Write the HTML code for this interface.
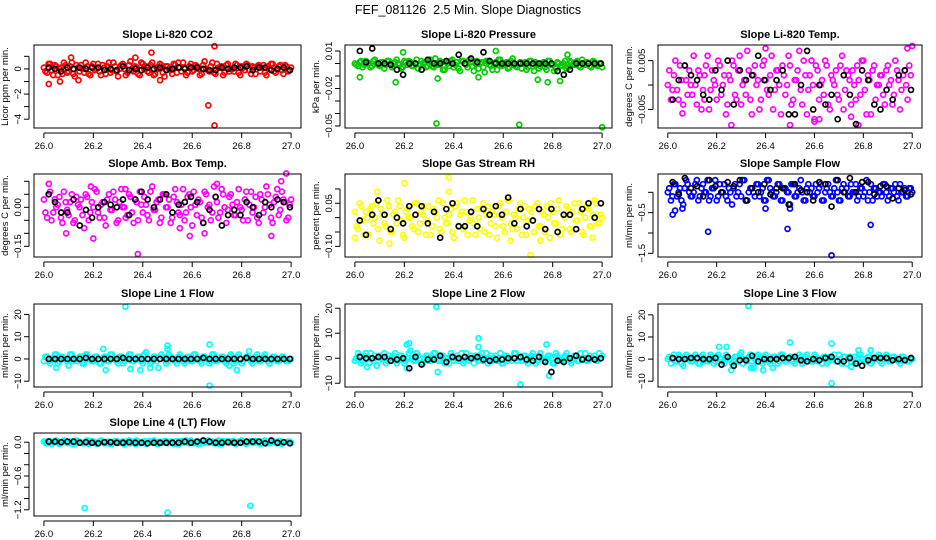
<!DOCTYPE html>
<html><head><meta charset="utf-8">
<style>
html,body{margin:0;padding:0;background:#fff;}
svg{display:block;font-family:"Liberation Sans",Arial,sans-serif;}
</style></head>
<body>
<svg id="chart" width="936" height="540" viewBox="0 0 936 540" xmlns="http://www.w3.org/2000/svg">
<rect width="936" height="540" fill="#fff"/>
<text x="468" y="14" text-anchor="middle" font-size="12.5">FEF_081126&#160; 2.5 Min. Slope Diagnostics</text>
</svg>
<script>
// shared time arrays
const xsColor = [26.000,26.013,26.025,26.038,26.050,26.063,26.075,26.088,26.100,26.113,26.125,26.138,26.150,26.163,26.175,26.188,26.200,26.213,26.225,26.238,26.250,26.263,26.275,26.288,26.300,26.313,26.325,26.338,26.350,26.363,26.375,26.388,26.400,26.413,26.425,26.438,26.450,26.463,26.475,26.488,26.500,26.513,26.525,26.538,26.550,26.563,26.575,26.588,26.600,26.613,26.625,26.638,26.650,26.663,26.675,26.688,26.700,26.713,26.725,26.738,26.750,26.763,26.775,26.788,26.800,26.813,26.825,26.838,26.850,26.863,26.875,26.888,26.900,26.913,26.925,26.938,26.950,26.963,26.975,26.988,27.000];
const xsColor2 = [26.006,26.019,26.031,26.044,26.056,26.069,26.081,26.094,26.106,26.119,26.131,26.144,26.156,26.169,26.181,26.194,26.206,26.219,26.231,26.244,26.256,26.269,26.281,26.294,26.306,26.319,26.331,26.344,26.356,26.369,26.381,26.394,26.406,26.419,26.431,26.444,26.456,26.469,26.481,26.494,26.506,26.519,26.531,26.544,26.556,26.569,26.581,26.594,26.606,26.619,26.631,26.644,26.656,26.669,26.681,26.694,26.706,26.719,26.731,26.744,26.756,26.769,26.781,26.794,26.806,26.819,26.831,26.844,26.856,26.869,26.881,26.894,26.906,26.919,26.931,26.944,26.956,26.969,26.981,26.994];
const xsBlack = [26.020,26.045,26.070,26.095,26.120,26.145,26.170,26.195,26.220,26.245,26.270,26.295,26.320,26.345,26.370,26.395,26.420,26.445,26.470,26.495,26.520,26.545,26.570,26.595,26.620,26.645,26.670,26.695,26.720,26.745,26.770,26.795,26.820,26.845,26.870,26.895,26.920,26.945,26.970,26.995];
const xTicks = [26.0,26.2,26.4,26.6,26.8,27.0];
const xTickLabels = ["26.0","26.2","26.4","26.6","26.8","27.0"];

// Panel 1: CO2
const co2Color = [0.1,-0.3,0.4,-0.5,0.2,0.0,-0.4,0.3,-0.2,0.5,-0.6,0.1,0.3,-0.3,0.2,-0.5,0.4,0.0,-0.2,0.3,-0.4,0.5,-0.1,0.2,-0.6,0.3,0.0,-0.3,0.6,-0.2,0.1,-0.5,0.4,0.2,-0.3,0.5,-0.4,0.0,0.3,-0.6,0.2,-0.1,0.4,-0.3,0.1,0.5,-0.5,0.2,-0.2,0.3,0.0,-0.4,0.6,-0.1,0.2,-0.3,0.4,0.1,-0.5,0.3,-0.2,0.0,0.4,-0.3,0.2,-0.1,0.3,-0.4,0.1,0.2,-0.2,0.3,-0.5,0.0,0.4,-0.3,0.2,-0.1,0.3,-0.2,0.1];
const co2Color2 = [-0.2,0.4,-0.1,0.3,-0.5,0.1,0.5,-0.3,0.2,-0.4,0.3,-0.2,0.0,0.5,-0.4,0.2,-0.1,0.4,-0.5,0.1,0.2,-0.3,0.5,-0.2,0.0,0.4,-0.5,0.3,-0.1,0.2,-0.4,0.5,0.0,-0.2,0.3,-0.5,0.1,0.4,-0.3,0.2,0.0,-0.4,0.3,0.5,-0.2,0.1,-0.3,0.4,-0.1,0.2,-0.5,0.3,0.0,-0.2,0.5,-0.4,0.1,0.2,-0.3,0.4,0.0,-0.2,0.3,-0.5,0.1,0.4,-0.1,0.2,-0.4,0.3,0.1,-0.3,0.2,0.4,-0.2,0.0,0.3,-0.4,0.2,-0.1];
const co2Black = [0.1,0.0,-0.2,0.1,0.0,0.1,0.0,0.1,0.1,-0.1,0.0,-0.1,0.2,-0.1,0.0,-0.1,0.1,0.0,0.1,-0.1,0.0,0.1,0.0,0.1,0.1,0.0,-0.1,-0.1,0.1,0.0,0.1,0.1,0.2,-0.1,0.1,0.1,-0.1,0.0,0.1,-0.1];
const co2OutX = [26.69,26.665,26.69,26.435,26.37,26.11,26.02,26.065,26.14,26.47];
const co2OutY = [1.8,-2.9,-4.5,1.3,0.9,0.9,-1.2,-1.0,-0.9,-0.9];
// Panel 2: Pressure
const presColor = [0.000,-0.002,0.002,-0.001,0.001,-0.003,0.002,0.000,-0.002,0.001,-0.001,0.002,-0.003,0.001,0.000,-0.004,0.002,-0.001,0.001,-0.002,0.003,-0.001,0.000,-0.003,0.002,-0.002,0.004,-0.001,0.001,-0.005,0.000,0.002,-0.003,0.001,-0.006,0.002,-0.001,0.003,-0.002,0.000,-0.004,0.001,-0.007,0.002,-0.002,0.000,-0.005,0.003,-0.001,0.001,-0.003,0.004,-0.002,0.000,-0.004,0.001,-0.003,0.002,-0.006,0.000,-0.002,0.001,-0.005,0.002,-0.001,-0.004,0.000,-0.002,0.002,-0.003,0.001,-0.001,0.002,-0.003,0.000,0.001,-0.002,0.002,-0.001,0.000,-0.003];
const presColor2 = [-0.001,0.001,-0.003,0.002,0.000,-0.002,0.003,-0.001,0.001,-0.004,0.002,0.000,-0.002,0.003,-0.001,-0.003,0.001,0.002,-0.002,0.000,-0.004,0.002,0.001,-0.002,0.003,-0.003,0.000,0.002,-0.005,0.001,-0.002,0.003,-0.001,-0.004,0.002,0.000,-0.003,0.001,-0.006,0.002,0.000,-0.003,0.002,-0.001,-0.005,0.001,0.003,-0.002,0.000,-0.004,0.002,-0.001,-0.003,0.001,0.000,-0.005,0.002,-0.002,0.001,-0.004,0.000,-0.003,0.002,-0.001,-0.006,0.001,-0.002,0.000,-0.004,0.002,-0.001,0.001,-0.002,0.003,-0.001,0.000,-0.003,0.001,-0.002,0.000];
const presBlack = [0.010,0.001,0.012,0.000,0.000,-0.001,-0.005,-0.009,0.000,0.000,-0.005,0.003,0.000,0.000,0.002,0.000,0.007,0.000,0.004,0.001,0.009,0.002,0.000,0.000,0.000,0.000,0.000,0.000,0.000,0.000,0.000,0.000,-0.006,-0.009,-0.005,0.000,0.000,0.000,0.000,0.000];
const presOutX = [26.33,26.665,27.0,26.57,26.195,26.02,26.165,26.335,26.78,26.83,26.5,26.74,26.86];
const presOutY = [-0.048,-0.049,-0.051,0.010,0.009,-0.011,-0.015,-0.012,-0.015,-0.014,-0.011,-0.013,0.007];
// Panel 3: Li-820 temp
const tempColor = [0.000,-0.003,0.002,-0.001,0.004,-0.004,0.001,0.003,-0.002,0.000,0.003,-0.005,0.002,0.006,-0.001,0.001,-0.003,0.004,0.000,-0.006,0.002,0.005,-0.002,0.003,-0.004,0.001,0.007,-0.003,0.002,0.000,-0.005,0.004,0.001,-0.002,0.006,-0.001,0.003,-0.006,0.002,0.000,0.004,-0.003,0.001,0.007,-0.004,0.002,-0.001,0.005,-0.007,0.003,0.000,-0.002,0.004,-0.005,0.001,0.003,-0.003,0.006,-0.001,0.002,-0.004,0.000,0.004,-0.002,0.005,-0.006,0.001,0.003,-0.003,0.000,0.002,-0.004,0.004,0.001,-0.002,0.003,-0.005,0.002,0.000,0.004,0.008];
const tempColor2 = [0.003,-0.001,0.005,-0.003,0.001,0.004,-0.002,0.000,0.006,-0.004,0.002,-0.001,0.004,-0.005,0.003,0.000,0.005,-0.002,0.002,-0.004,0.001,0.004,-0.003,0.006,0.000,-0.002,0.003,-0.006,0.004,0.001,-0.003,0.005,-0.001,0.002,-0.005,0.003,0.000,0.004,-0.002,0.006,-0.004,0.001,0.003,-0.001,0.005,-0.006,0.002,0.000,0.004,-0.003,0.001,0.005,-0.004,0.002,0.000,-0.002,0.004,-0.005,0.003,0.001,0.003,-0.003,0.001,0.005,-0.001,0.002,-0.006,0.004,0.000,0.002,-0.002,0.003,0.000,-0.004,0.005,0.001,-0.001,0.003,-0.003,0.002];
const tempBlack = [-0.003,0.001,0.004,0.002,0.001,-0.002,-0.003,0.003,-0.001,0.005,-0.004,0.003,0.001,0.002,0.006,0.001,-0.001,0.001,0.003,-0.006,-0.006,0.000,0.007,-0.005,0.000,-0.004,-0.002,-0.007,0.002,-0.002,-0.008,0.003,0.001,-0.004,-0.005,-0.001,-0.003,0.002,0.003,-0.001];
const tempOutX = [26.26,26.5,26.78,26.98,26.06,26.75,26.62,26.6,26.4,26.15];
const tempOutY = [-0.0082,-0.0082,-0.0082,0.0075,-0.0058,-0.0065,-0.0070,-0.0075,0.0075,-0.003];
// Panel 4: Amb box temp
const ambColor = [0.03,-0.04,0.06,-0.02,0.00,0.04,-0.06,0.02,-0.03,0.05,-0.05,0.01,0.03,-0.08,0.04,-0.02,0.00,0.06,-0.04,0.02,-0.07,0.05,-0.01,0.03,-0.05,0.07,0.00,-0.03,0.04,-0.06,0.02,0.06,-0.02,0.01,-0.05,0.08,-0.01,0.03,-0.04,0.05,0.00,-0.06,0.04,0.02,-0.03,0.07,-0.02,0.05,-0.07,0.01,0.03,-0.04,0.06,0.00,-0.05,0.08,0.02,-0.02,0.05,-0.06,0.04,0.01,-0.03,0.07,-0.01,0.03,-0.05,0.06,0.00,-0.04,0.05,-0.02,0.08,0.01,-0.06,0.04,-0.03,0.06,0.02,-0.04,0.03];
const ambColor2 = [-0.02,0.05,-0.05,0.03,0.01,-0.04,0.06,-0.01,0.02,-0.06,0.04,0.00,-0.03,0.05,-0.05,0.02,0.07,-0.02,0.01,-0.04,0.03,-0.01,0.06,-0.06,0.02,0.00,-0.04,0.05,-0.02,0.03,-0.05,0.01,0.04,-0.03,0.06,-0.01,0.02,-0.06,0.05,0.00,0.03,-0.04,0.07,-0.02,0.01,-0.05,0.04,0.00,0.06,-0.03,0.02,-0.06,0.05,0.01,-0.02,0.04,-0.04,0.07,0.00,-0.01,0.05,-0.03,0.02,0.00,-0.05,0.06,0.01,-0.02,0.04,-0.06,0.03,0.00,0.05,-0.04,0.02,0.07,-0.01,0.03,-0.05,0.01];
const ambBlack = [0.05,0.02,-0.02,-0.02,0.03,-0.07,-0.01,-0.04,0.00,0.02,0.01,0.00,0.03,-0.03,0.03,0.06,0.03,0.00,0.03,0.05,-0.02,0.01,0.02,0.04,0.02,-0.06,-0.01,0.04,-0.07,-0.03,-0.01,-0.03,0.02,0.00,-0.03,0.02,0.00,0.03,0.02,0.00];
const ambOutX = [26.38,26.2,26.02,26.09,26.19,26.92,26.96,26.59,26.55,26.65,26.33,26.7,26.98];
const ambOutY = [-0.18,-0.12,0.09,-0.10,0.08,-0.11,0.10,-0.11,-0.08,-0.10,0.07,0.09,0.13];
// Panel 5: Gas stream RH
const rhColor = [0.02,-0.04,0.04,-0.06,0.00,0.03,-0.02,0.05,-0.08,0.01,-0.03,0.04,-0.05,0.02,0.06,-0.01,-0.07,0.03,0.00,-0.04,0.05,-0.02,0.01,-0.06,0.04,-0.03,0.02,0.06,-0.05,0.00,-0.02,0.03,-0.07,0.05,0.01,-0.04,0.02,-0.01,0.06,-0.06,0.00,0.03,-0.05,0.04,-0.02,0.01,-0.07,0.05,-0.03,0.02,0.06,-0.04,0.00,0.03,-0.06,0.04,-0.01,0.02,-0.05,0.05,-0.03,0.01,0.04,-0.07,0.02,-0.02,0.06,-0.04,0.00,0.03,-0.05,0.05,-0.01,0.02,-0.06,0.04,-0.03,0.01,0.05,-0.02,0.00];
const rhColor2 = [-0.03,0.05,-0.01,0.02,-0.06,0.04,0.00,-0.04,0.03,-0.02,0.06,-0.05,0.01,-0.02,0.04,-0.06,0.02,0.00,-0.03,0.05,-0.05,0.02,0.04,-0.01,-0.06,0.03,0.00,-0.04,0.05,-0.02,0.01,-0.05,0.04,-0.03,0.02,0.06,-0.06,0.00,-0.02,0.03,-0.04,0.05,0.01,-0.06,0.02,-0.03,0.04,0.00,-0.05,0.06,-0.02,0.01,-0.04,0.05,0.00,-0.06,0.03,-0.01,0.04,-0.03,0.02,-0.05,0.00,0.05,-0.02,0.03,-0.06,0.01,0.04,-0.04,0.02,-0.01,0.05,-0.05,0.00,0.03,-0.03,0.06,-0.02,0.01];
const rhBlack = [-0.01,-0.06,0.01,0.06,0.01,-0.04,0.00,-0.02,0.04,0.01,0.04,-0.02,0.02,-0.07,0.03,0.05,-0.03,-0.03,0.02,-0.03,0.03,0.01,0.04,0.01,0.07,-0.02,0.03,-0.03,-0.01,0.03,-0.04,0.03,-0.05,0.01,0.01,-0.04,0.03,0.05,0.00,0.05];
const rhOutX = [26.38,26.2,26.38,26.71,26.14,26.63,26.09,26.75,26.96,26.0];
const rhOutY = [0.14,0.12,0.09,-0.13,-0.09,-0.08,0.09,-0.08,-0.07,-0.07];
// Panel 6: Sample flow
const sfColor = [0.0,-0.2,0.2,-0.1,0.1,-0.3,0.3,0.0,-0.1,0.2,-0.2,0.1,0.0,0.3,-0.1,0.1,-0.2,0.2,0.0,-0.1,0.1,-0.3,0.2,0.0,-0.1,0.3,-0.2,0.1,0.0,0.2,-0.1,0.1,-0.2,0.3,0.0,-0.1,0.2,-0.2,0.1,0.0,-0.3,0.2,-0.1,0.1,0.0,-0.2,0.2,0.1,-0.1,0.0,0.2,-0.2,0.1,0.0,-0.1,0.3,-0.2,0.1,0.0,-0.1,0.2,0.0,-0.2,0.1,-0.1,0.3,0.0,-0.2,0.1,0.0,-0.1,0.2,-0.2,0.1,0.0,-0.1,0.2,0.0,-0.1,0.1,0.0];
const sfColor2 = [0.1,-0.1,0.2,0.0,-0.2,0.1,0.2,-0.1,0.0,0.3,-0.1,0.2,0.0,-0.2,0.1,0.3,-0.1,0.0,0.2,-0.2,0.0,0.1,-0.1,0.2,0.3,-0.2,0.0,0.1,-0.1,0.2,0.0,-0.2,0.3,0.1,-0.1,0.0,0.2,-0.2,0.1,0.0,0.2,-0.1,0.0,0.3,-0.2,0.1,0.0,-0.1,0.2,0.1,-0.2,0.0,0.2,-0.1,0.1,0.0,-0.2,0.2,0.1,-0.1,0.0,0.2,-0.1,0.1,0.0,-0.2,0.2,0.1,-0.1,0.0,0.2,0.0,-0.1,0.1,0.2,-0.2,0.0,0.1,-0.1,0.1];
const sfBlack = [0.25,-0.05,0.35,0.1,0.15,-0.1,0.3,0.15,0.0,0.25,0.15,0.3,-0.2,0.1,0.0,0.2,-0.05,0.1,0.1,-0.3,0.2,0.05,0.0,-0.2,0.25,0.2,-0.35,0.3,0.0,0.35,0.0,0.25,0.25,-0.05,0.15,0.15,-0.15,0.1,0.05,-0.05];
const sfOutX = [26.165,26.49,26.67,26.83,26.02,26.03,26.5,26.4,26.06];
const sfOutY = [-0.97,-0.9,-1.55,-0.8,-0.55,-0.45,-0.4,-0.4,-0.4];
// Panel 7: Line 1 flow
const l1Color = [-1,1,-2,0,2,-1,1,0,-3,2,0,-1,1,-2,2,0,-1,1,-2,0,1,-1,2,0,-2,1,-1,0,2,-1,0,1,-2,3,0,-1,1,-4,2,0,-1,1,0,-2,2,-1,0,1,-1,2,0,-2,1,0,-1,2,-1,0,1,-2,1,0,-1,2,-2,0,1,-1,0,2,-1,1,0,-2,1,0,-1,1,0,-1,0];
const l1Color2 = [1,-1,0,2,-2,1,0,-1,2,-1,0,1,-2,2,0,-1,1,0,-2,1,-1,2,0,-1,1,-2,0,2,-1,0,1,-1,2,0,-2,1,-1,0,1,-2,2,0,-1,1,0,-2,1,-1,2,0,-1,1,0,-2,2,-1,0,1,-1,0,2,-2,1,0,-1,1,0,-2,1,-1,0,2,-1,0,1,-1,0,1,-1,0];
const l1Black = [0,0,0,0,0,0,0.5,0,0,0,0,0,0.5,0,0,0,0,0,0,0,0,0,0,0,0,0.5,0,0,0,0,0,0,0.5,0,0,0,0,0,0,0];
const l1OutX = [26.33,26.67,26.5,26.5,26.67,26.24,26.25,26.05,26.35,26.39,26.43,26.78,26.83,26.75];
const l1OutY = [23.5,-12,6,4.5,6.5,4.5,-5,-4,-4.5,-5,-4,-5,3.5,-3];
// Panel 8: Line 2 flow
const l2Color = [-1,2,-2,1,0,2,-1,-3,1,0,-2,1,0,2,-1,1,-2,0,3,-1,2,0,-2,1,-1,0,2,-1,1,-2,0,2,-1,1,0,-2,2,-1,0,1,-1,2,0,-2,1,0,-1,2,-2,1,0,-1,2,0,-1,1,-2,1,0,-1,2,-1,0,1,-2,2,0,-1,1,0,-2,1,-1,2,0,-1,1,0,-1,2,1];
const l2Color2 = [0,1,-1,2,-2,0,1,-1,0,2,-1,0,1,-2,1,0,-1,2,0,-1,1,-2,0,1,-1,2,0,-1,1,0,-2,1,0,-1,2,-1,0,1,-2,0,1,-1,2,0,-1,1,0,-2,1,-1,0,2,-1,0,1,-1,0,2,-2,1,0,-1,1,0,-2,1,-1,0,2,-1,0,1,-1,0,2,-1,0,1,-1,0];
const l2Black = [0.5,0,0,0.5,0.5,-1,-0.5,0,-4,0.5,-2.5,-0.5,-0.5,1,-1.5,0.5,0,0.5,0,0.5,-0.5,-1,-0.5,-0.5,0,0,0.5,-0.5,-1,0.5,-1.5,-5.5,-1,-1.5,0,1,-0.5,0,-0.5,0];
const l2OutX = [26.33,26.67,26.5,26.5,26.21,26.22,26.775,26.785,26.335,26.05,26.21];
const l2OutY = [20.5,-10.5,8,4.5,5.5,6,5.5,-7,-5.5,-3.5,-4];
// Panel 9: Line 3 flow
const l3Color = [0,-2,2,-1,1,-3,2,0,-1,2,-2,1,0,-1,2,-2,1,0,-1,2,0,-2,1,-1,3,0,-1,2,-3,1,0,-2,2,-1,0,1,-2,2,0,-1,1,-1,0,2,-2,1,0,-1,2,-1,0,1,-2,1,0,-1,2,-2,1,0,-1,1,-2,2,0,-1,1,-1,0,2,-2,1,0,-1,1,0,-2,1,0,-1,0];
const l3Color2 = [1,0,-1,2,-2,1,0,-1,1,0,-2,2,-1,0,1,-1,2,0,-2,1,0,-1,1,2,-2,0,1,-1,0,2,-1,1,0,-2,1,0,-1,2,-1,0,1,-2,0,1,-1,2,0,-1,1,0,-2,1,-1,0,2,-1,0,1,-2,1,0,-1,2,0,-1,1,-2,0,1,-1,0,2,-1,1,0,-1,1,0,-1,0];
const l3Black = [0.5,0,0,0.5,0.5,0,0,0.5,-2.5,1,-3,-0.5,-0.5,1.5,-1,0,0,0,0.5,0.5,1,-0.5,-1,0,-0.5,0.5,1,-1,-1,0.5,-2,-3,-0.5,0.5,0.5,0.5,-0.5,0,-0.5,0.5];
const l3OutX = [26.33,26.67,26.5,26.67,26.21,26.24,26.26,26.34,26.35,26.39,26.43,26.78,26.83,26.75];
const l3OutY = [24,-11,7.5,7,5.5,5.5,-5,-4,-4,-5,-4,4,4,-3.5];
// Panel 10: Line 4 (LT) flow
const l4Color = [0.01,-0.02,0.02,-0.01,0.03,-0.03,0.00,0.02,-0.02,0.01,-0.03,0.02,0.00,-0.02,0.03,-0.01,0.01,-0.03,0.02,0.00,-0.02,0.01,-0.03,0.02,-0.01,0.00,-0.04,0.02,-0.02,0.01,0.03,-0.02,0.00,-0.03,0.02,-0.01,0.01,-0.03,0.00,0.02,-0.02,0.01,-0.03,0.02,0.00,-0.01,0.03,-0.02,0.01,0.00,-0.03,0.02,-0.01,0.03,0.00,-0.02,0.01,-0.03,0.02,0.00,-0.01,0.02,-0.03,0.01,0.03,-0.02,0.00,0.02,-0.01,0.01,-0.03,0.02,0.00,-0.02,0.01,-0.01,0.02,-0.03,0.00,0.01,-0.01];
const l4Color2 = [-0.01,0.02,-0.03,0.01,0.00,-0.02,0.03,-0.01,0.01,-0.04,0.02,0.00,-0.02,0.01,-0.03,0.02,0.00,-0.01,0.03,-0.02,0.01,-0.03,0.00,0.02,-0.01,0.01,-0.02,0.03,0.00,-0.03,0.01,-0.01,0.02,-0.02,0.00,0.03,-0.03,0.01,-0.01,0.02,0.00,-0.02,0.01,-0.04,0.02,0.00,-0.01,0.03,-0.02,0.01,-0.03,0.02,0.00,-0.01,0.01,-0.02,0.03,-0.03,0.00,0.02,-0.01,0.01,-0.02,0.02,0.00,-0.03,0.01,-0.01,0.02,0.00,-0.02,0.03,-0.01,0.00,0.01,-0.02,0.02,-0.01,0.00,0.01];
const l4Black = [0.01,0.01,0.00,0.01,0.01,-0.01,0.00,-0.01,-0.02,0.00,0.00,-0.01,-0.01,0.00,-0.01,-0.01,-0.02,-0.01,-0.01,-0.01,-0.01,-0.01,0.01,-0.01,0.01,0.03,0.01,-0.01,-0.01,0.00,-0.01,-0.01,0.01,0.01,0.01,-0.02,0.03,-0.01,0.00,-0.02];
const l4OutX = [26.165,26.5,26.835,26.13,26.71];
const l4OutY = [-1.17,-1.25,-1.13,0.03,-0.03];

const panels = [
 {title:"Slope Li-820 CO2", ylab:"Licor ppm per min.", col:0,row:0, color:"#ff0000", ylim:[-4.7,1.9], ticks:[1,0,-1,-2,-3,-4], labels:{"0":"0","-2":"\u22122","-4":"\u22124"}, c:co2Color,c2:co2Color2,b:co2Black,ox:co2OutX,oy:co2OutY},
 {title:"Slope Li-820 Pressure", ylab:"kPa per min.", col:1,row:0, color:"#00cc00", ylim:[-0.0516,0.0148], ticks:[0.01,0,-0.01,-0.02,-0.03,-0.04,-0.05], labels:{"0.01":"0.01","-0.02":"\u22120.02","-0.05":"\u22120.05"}, c:presColor,c2:presColor2,b:presBlack,ox:presOutX,oy:presOutY},
 {title:"Slope Li-820 Temp.", ylab:"degrees C per min.", col:2,row:0, color:"#ff00ff", ylim:[-0.0088,0.0082], ticks:[0.005,0,-0.005], labels:{"0.005":"0.005","-0.005":"\u22120.005"}, c:tempColor,c2:tempColor2,b:tempBlack,ox:tempOutX,oy:tempOutY},
 {title:"Slope Amb. Box Temp.", ylab:"degrees C per min.", col:0,row:1, color:"#ff00ff", ylim:[-0.191,0.128], ticks:[0.1,0.05,0,-0.05,-0.1,-0.15], labels:{"0":"0.00","-0.15":"\u22120.15"}, c:ambColor,c2:ambColor2,b:ambBlack,ox:ambOutX,oy:ambOutY},
 {title:"Slope Gas Stream RH", ylab:"percent per min.", col:1,row:1, color:"#ffff00", ylim:[-0.137,0.152], ticks:[0.1,0.05,0,-0.05,-0.1], labels:{"0.05":"0.05","-0.1":"\u22120.10"}, c:rhColor,c2:rhColor2,b:rhBlack,ox:rhOutX,oy:rhOutY},
 {title:"Slope Sample Flow", ylab:"ml/min per min.", col:2,row:1, color:"#0000ff", ylim:[-1.59,0.45], ticks:[0,-0.5,-1,-1.5], labels:{"-0.5":"\u22120.5","-1.5":"\u22121.5"}, c:sfColor,c2:sfColor2,b:sfBlack,ox:sfOutX,oy:sfOutY},
 {title:"Slope Line 1 Flow", ylab:"ml/min per min.", col:0,row:2, color:"#00ffff", ylim:[-12.6,24.7], ticks:[20,10,0,-10], labels:{"20":"20","10":"10","0":"0","-10":"\u221210"}, c:l1Color,c2:l1Color2,b:l1Black,ox:l1OutX,oy:l1OutY},
 {title:"Slope Line 2 Flow", ylab:"ml/min per min.", col:1,row:2, color:"#00ffff", ylim:[-11.5,21.7], ticks:[20,10,0,-10], labels:{"20":"20","10":"10","0":"0","-10":"\u221210"}, c:l2Color,c2:l2Color2,b:l2Black,ox:l2OutX,oy:l2OutY},
 {title:"Slope Line 3 Flow", ylab:"ml/min per min.", col:2,row:2, color:"#00ffff", ylim:[-12.6,24.9], ticks:[20,10,0,-10], labels:{"20":"20","10":"10","0":"0","-10":"\u221210"}, c:l3Color,c2:l3Color2,b:l3Black,ox:l3OutX,oy:l3OutY},
 {title:"Slope Line 4 (LT) Flow", ylab:"ml/min per min.", col:0,row:3, color:"#00ffff", ylim:[-1.31,0.163], ticks:[0,-0.2,-0.4,-0.6,-0.8,-1,-1.2], labels:{"0":"0.0","-0.6":"\u22120.6","-1.2":"\u22121.2"}, c:l4Color,c2:l4Color2,b:l4Black,ox:l4OutX,oy:l4OutY}
];
const colLeft=[34,345,658], colRight=[301,612,922], rowTop=[45,174,304,433], H=83;
const NS="http://www.w3.org/2000/svg";
const svg=document.getElementById('chart');
function mk(tag,attrs,parent){const e=document.createElementNS(NS,tag);for(const k in attrs)e.setAttribute(k,attrs[k]);(parent||svg).appendChild(e);return e;}

panels.forEach((p,pi)=>{
  const L=colLeft[p.col],R=colRight[p.col],T=rowTop[p.row],B=T+H;
  const sx=v=>L+(v-25.96)/1.08*(R-L);
  const sy=v=>B-(v-p.ylim[0])/(p.ylim[1]-p.ylim[0])*H;
  const g=mk('g',{});
  
  
  const t=mk('text',{x:(L+R)/2,y:T-7,'text-anchor':'middle','font-size':'11','font-weight':'bold'},g);
  t.textContent=p.title;
  
  
  const yl=mk('text',{x:L-26,y:(T+B)/2,'text-anchor':'middle','font-size':'9.5',transform:`rotate(-90 ${L-26} ${(T+B)/2})`},g);
  yl.textContent=p.ylab;
  
  
  const pts=mk('g',{fill:'none','stroke-width':'1.7'},g);
  
  
  p.c.forEach((v,i)=>{
    if(i>=xsColor.length) return;
    const c=mk('circle',{cx:sx(xsColor[i]),cy:sy(v),r:2.5,stroke:p.color},pts);
    
    
  });
  p.c2.forEach((v,i)=>{
    if(i>=xsColor2.length) return;
    const c=mk('circle',{cx:sx(xsColor2[i]),cy:sy(v),r:2.5,stroke:p.color},pts);
    
    
  });
  p.ox.forEach((x,i)=>{
    const c=mk('circle',{cx:sx(x),cy:sy(p.oy[i]),r:2.5,stroke:p.color},pts);
    
    
  });
  p.b.forEach((v,i)=>{
    if(i>=xsBlack.length) return;
    const c=mk('circle',{cx:sx(xsBlack[i]),cy:sy(v),r:2.5,stroke:'#000'},pts);
    
    
  });
  const box=mk('rect',{x:L,y:T,width:R-L,height:H,fill:'none',stroke:'#000','stroke-width':'1'},g);
  
  
  const xa=mk('g',{},g);
  
  
  mk('line',{x1:sx(26),x2:sx(27),y1:B+5,y2:B+5,stroke:'#000'},xa);
  xTicks.forEach((v,i)=>{
    mk('line',{x1:sx(v),x2:sx(v),y1:B+5,y2:B+10,stroke:'#000'},xa);
    const tl=mk('text',{x:sx(v),y:B+21,'text-anchor':'middle','font-size':'9.5'},xa);
    tl.textContent=xTickLabels[i];
    
    
  });
  const ya=mk('g',{},g);
  
  
  mk('line',{x1:L-5,x2:L-5,y1:sy(Math.max(...p.ticks)),y2:sy(Math.min(...p.ticks)),stroke:'#000'},ya);
  p.ticks.forEach(v=>{
    mk('line',{x1:L-10,x2:L-5,y1:sy(v),y2:sy(v),stroke:'#000'},ya);
    const lab=p.labels[String(v)];
    if(lab){
      const tx=L-13, ty=sy(v);
      const tl=mk('text',{x:tx,y:ty,'text-anchor':'middle','font-size':'9.5',transform:`rotate(-90 ${tx} ${ty})`},ya);
      tl.textContent=lab;
      
      
    }
  });
});
</script>
</body></html>
